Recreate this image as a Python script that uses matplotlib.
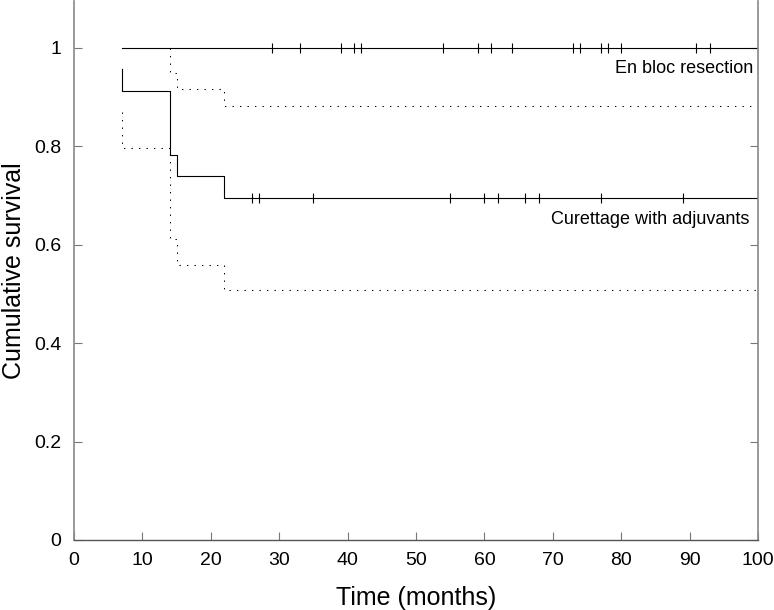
import matplotlib
matplotlib.use("Agg")
import matplotlib.pyplot as plt

plt.rcParams['font.family'] = ['Liberation Sans', 'DejaVu Sans']

# En bloc resection: no events, survival stays at 1
enbloc_times = [7, 100]
enbloc_surv = [1.0, 1.0]
enbloc_censored = [29, 33, 39, 41, 42, 54, 59, 61, 64, 73, 74, 77, 78, 80, 91, 93]

# Curettage with adjuvants: Kaplan-Meier steps
cur_times = [7, 7, 14, 15, 22, 100]
cur_surv = [0.957, 0.913, 0.783, 0.739, 0.696, 0.696]
cur_censored = [26, 27, 35, 55, 60, 62, 66, 68, 77, 89]

# confidence limits for curettage
upper_times = [14, 14, 15, 22, 100]
upper_vals = [1.0, 0.95, 0.917, 0.882, 0.882]
lower_times = [7, 7, 14, 15, 22, 100]
lower_vals = [0.870, 0.797, 0.612, 0.558, 0.508, 0.508]

xticks = [0, 10, 20, 30, 40, 50, 60, 70, 80, 90, 100]
yticks = [0, 0.2, 0.4, 0.6, 0.8, 1.0]
ytick_labels = ["0", "0.2", "0.4", "0.6", "0.8", "1"]

fig = plt.figure(figsize=(7.74, 6.10), dpi=100)
ax = fig.add_axes([0.0956, 0.1148, 0.8837, 0.8832])

dots = (0, (1.3, 5.9))
ax.step(enbloc_times, enbloc_surv, where="post", color="black", lw=0.8)
ax.step(cur_times, cur_surv, where="post", color="black", lw=0.8)
ax.step(upper_times, upper_vals, where="post", color="black", lw=0.75, linestyle=dots)
ax.step(lower_times, lower_vals, where="post", color="black", lw=0.75, linestyle=dots)

ax.plot(enbloc_censored, [enbloc_surv[-1]] * len(enbloc_censored), linestyle="none",
        marker="|", markersize=7, markeredgewidth=0.8, color="black")
ax.plot(cur_censored, [cur_surv[-1]] * len(cur_censored), linestyle="none",
        marker="|", markersize=7, markeredgewidth=0.8, color="black")

ax.text(99.3, 0.959, "En bloc resection", ha="right", va="center", fontsize=13)
ax.text(98.7, 0.652, "Curettage with adjuvants", ha="right", va="center", fontsize=13)

ax.set_xlim(0, 100)
ax.set_ylim(0, 1.095)
ax.set_xticks(xticks)
ax.set_yticks(yticks)
ax.set_yticklabels(ytick_labels)
ax.tick_params(direction="in", length=6, width=0.8, color="#777777", labelsize=14)
ax.tick_params(axis="y", right=True, pad=9)
ax.tick_params(axis="x", pad=9)

for side in ["left", "right"]:
    ax.spines[side].set_color("#888888")
    ax.spines[side].set_linewidth(1.2)
ax.spines["bottom"].set_color("#555555")
ax.spines["bottom"].set_linewidth(1.0)
ax.spines["top"].set_visible(False)

ax.set_xlabel("Time (months)", fontsize=18, labelpad=12)
ax.set_ylabel("Cumulative survival", fontsize=18, labelpad=6)

fig.savefig("out.png", dpi=100)
